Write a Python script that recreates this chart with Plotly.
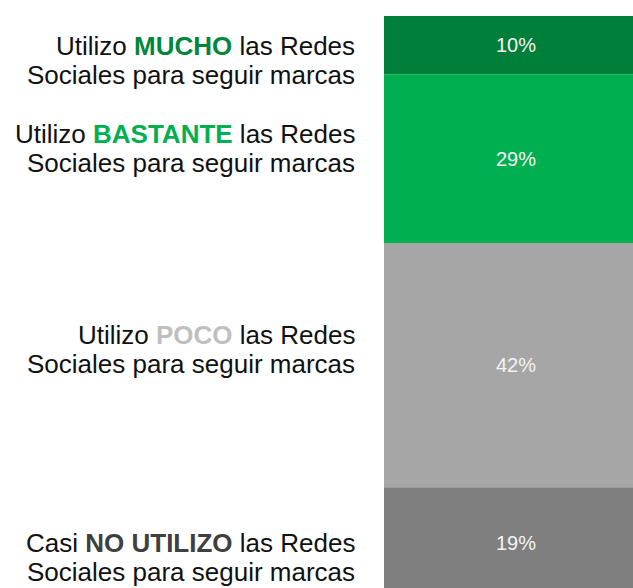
import plotly.graph_objects as go

# Data
segments = ["MUCHO", "BASTANTE", "POCO", "NO UTILIZO"]
values = [10, 29, 42, 19]
text_labels = ["10%", "29%", "42%", "19%"]
prefix = ["Utilizo ", "Utilizo ", "Utilizo ", "Casi "]
suffix_line1 = [" las Redes", " las Redes", " las Redes", " las Redes"]
line2 = ["Sociales para seguir marcas"] * 4

bar_colors = ["#007F3A", "#00B050", "#A6A6A6", "#7F7F7F"]
key_colors = ["#00873C", "#00B050", "#BFBFBF", "#404040"]
label_shift = [-15, 10, 16, -15]  # pixel offsets of label groups

fig = go.Figure()
cum = 0
mids = []
for i, v in enumerate(values):
    fig.add_trace(go.Bar(
        x=[0], y=[v], base=[cum],
        marker=dict(color=bar_colors[i], line=dict(width=0)),
        width=1,
        text=[text_labels[i]],
        textposition="inside",
        insidetextanchor="middle",
        textangle=0,
        textfont=dict(family="Liberation Sans, Arial", size=20, color="#F4F4F4"),
        hoverinfo="skip",
        showlegend=False,
    ))
    mids.append(cum + v / 2)
    cum += v

for i in range(len(values)):
    l1 = f"{prefix[i]}<b><span style='color:{key_colors[i]}'>{segments[i]}</span></b>{suffix_line1[i]}"
    for j, (t, off) in enumerate([(l1, 14.5), (line2[i], -14.5)]):
        fig.add_annotation(
            x=0, xref="paper", xanchor="right", xshift=-27,
            y=mids[i], yref="y", yanchor="middle", yshift=label_shift[i] + off,
            text=t, showarrow=False, align="right",
            font=dict(family="Liberation Sans, Arial", size=26, color="#111111"),
        )

fig.update_layout(
    width=633, height=588,
    margin=dict(l=384, r=0, t=16, b=0),
    paper_bgcolor="white", plot_bgcolor="white",
    barmode="overlay",
    xaxis=dict(range=[-0.5, 0.443], visible=False, fixedrange=True),
    yaxis=dict(range=[98.3, 0], visible=False, fixedrange=True),
)

fig.write_html(
    "out.html",
    config={"displayModeBar": False, "staticPlot": True},
    post_script="document.body.style.margin='0';document.body.style.overflow='hidden';",
)
